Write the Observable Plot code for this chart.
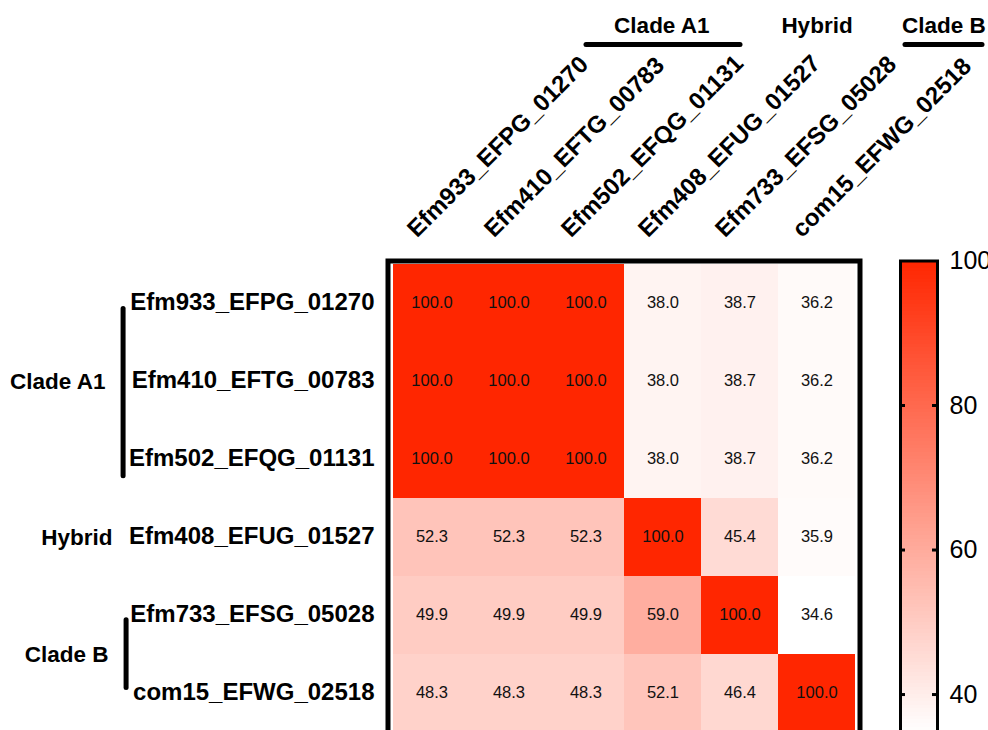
<!DOCTYPE html>
<html><head><meta charset="utf-8">
<script src="https://cdn.jsdelivr.net/npm/d3@7"></script>
<script src="https://cdn.jsdelivr.net/npm/@observablehq/plot@0.6"></script>
<style>
html,body{margin:0;padding:0;background:#fff;overflow:hidden}
#chart{position:relative;width:988px;height:730px;overflow:hidden;background:#fff}
#chart svg{position:absolute;top:0}
</style></head><body><div id="chart"></div>
<script>
// ---- data ----
const genes = ["Efm933_EFPG_01270","Efm410_EFTG_00783","Efm502_EFQG_01131","Efm408_EFUG_01527","Efm733_EFSG_05028","com15_EFWG_02518"];
const rowEfm933 = [100.0,100.0,100.0,38.0,38.7,36.2];
const rowEfm410 = [100.0,100.0,100.0,38.0,38.7,36.2];
const rowEfm502 = [100.0,100.0,100.0,38.0,38.7,36.2];
const rowEfm408 = [52.3,52.3,52.3,100.0,45.4,35.9];
const rowEfm733 = [49.9,49.9,49.9,59.0,100.0,34.6];
const rowCom15  = [48.3,48.3,48.3,52.1,46.4,100.0];
const groupNames = ["Clade A1","Hybrid","Clade B"];
const groupSizes = [3,1,2];
const colorTicks = [40,60,80,100];
const colorDomain = [34.6,100];

const values = [rowEfm933,rowEfm410,rowEfm502,rowEfm408,rowEfm733,rowCom15];
const cells = genes.flatMap((r,i)=>genes.map((c,j)=>({row:r,col:c,v:values[i][j]})));
let s0 = 0;
const groups = groupNames.map((name,k)=>{const g={name,size:groupSizes[k],first:genes[s0],last:genes[s0+groupSizes[k]-1]}; s0+=groupSizes[k]; return g;});

// ---- layout ----
const W=988,H=740,ML=390,MR=131,MT=263,MB=8;
const cellW=(W-ML-MR)/genes.length, cellH=(H-MT-MB)/genes.length;
const FONT="'Liberation Sans', Arial, Helvetica, sans-serif";
const RED="#ff2600";
const colorOpts={type:"linear",domain:colorDomain,range:["#ffffff",RED],clamp:true};

const topShift=[152,154,165];
const leftRight=[105,112,108];
const bracket=[{x:120,insetTop:44.5,insetBottom:22.2},null,{x:123,insetTop:43.8,insetBottom:44.5}];

const groupMarks=[];
groups.forEach((g,k)=>{
  groupMarks.push(Plot.text([g],{x:"first",text:"name",frameAnchor:"top",lineAnchor:"bottom",
    dx:topShift[k]+(g.size-1)*cellW/2,dy:32-MT,fontSize:22.5,fontWeight:"bold",fill:"black"}));
  if(g.size>1){
    groupMarks.push(Plot.link([g],{x1:"first",x2:"last",y1:()=>genes[0],y2:()=>genes[0],
      dx:topShift[k]+(k===0?2:0),dy:43-(MT+cellH/2),stroke:"black",strokeWidth:5,strokeLinecap:"round"}));
    const b=bracket[k];
    groupMarks.push(Plot.ruleX([g],{x:()=>genes[0],y1:"first",y2:"last",dx:b.x-(ML+cellW/2),
      insetTop:b.insetTop,insetBottom:b.insetBottom,stroke:"black",strokeWidth:5,strokeLinecap:"round"}));
  }
  groupMarks.push(Plot.text([g],{y:"first",text:"name",frameAnchor:"left",textAnchor:"end",
    dx:leftRight[k]-ML,dy:(g.size-1)*cellH/2,fontSize:22.5,fontWeight:"bold",fill:"black"}));
});

const main = Plot.plot({
  width:W,height:H,marginLeft:ML,marginRight:MR,marginTop:MT,marginBottom:MB,
  style:{fontFamily:FONT,background:"transparent",color:"black",overflow:"visible"},
  x:{domain:genes,padding:0,axis:null},
  y:{domain:genes,padding:0,axis:null},
  color:colorOpts,
  marks:[
    Plot.cell(cells,{x:"col",y:"row",fill:"v",inset:0,shapeRendering:"crispEdges"}),
    Plot.text(cells,{x:"col",y:"row",text:d=>d.v.toFixed(1),fontSize:16.5,fill:"#111",dy:-1}),
    Plot.frame({stroke:"black",strokeWidth:5,inset:-2.5}),
    Plot.text(genes,{y:d=>d,text:d=>d,frameAnchor:"left",textAnchor:"end",dx:-16,dy:-1,fontSize:24,fontWeight:"bold",fill:"black"}),
    Plot.text(genes,{x:d=>d,text:d=>d,frameAnchor:"top",rotate:-45,textAnchor:"start",lineAnchor:"bottom",dx:-15,dy:-25,fontSize:24,fontWeight:"bold",fill:"black"}),
    ...groupMarks
  ]
});
main.style.left="0px";

// ---- colour bar ----
const CL=860, CW=128;
const ramp=d3.range(34,100,0.5);
const bar = Plot.plot({
  width:CW,height:H,marginLeft:900-CL,marginRight:CL+CW-937,marginTop:260.5,marginBottom:2.6,
  style:{fontFamily:FONT,background:"transparent",color:"black",overflow:"visible"},
  x:{domain:[0,37],axis:null},
  y:{domain:[34,100],axis:null},
  color:colorOpts,
  marks:[
    Plot.rect(ramp,{y1:d=>d,y2:d=>d+0.6,fill:d=>d+0.25,shapeRendering:"crispEdges"}),
    Plot.frame({stroke:"black",strokeWidth:3}),
    Plot.ruleY(colorTicks.filter(t=>t<100),{x1:0,x2:5,stroke:"black",strokeWidth:3}),
    Plot.ruleY(colorTicks.filter(t=>t<100),{x1:32,x2:37,stroke:"black",strokeWidth:3}),
    Plot.text(colorTicks,{y:d=>d,text:d=>String(d),frameAnchor:"right",textAnchor:"start",dx:12,fontSize:25,fill:"black"})
  ]
});
bar.style.left=CL+"px";
const root=document.getElementById("chart");
root.appendChild(main);
root.appendChild(bar);
</script></body></html>
